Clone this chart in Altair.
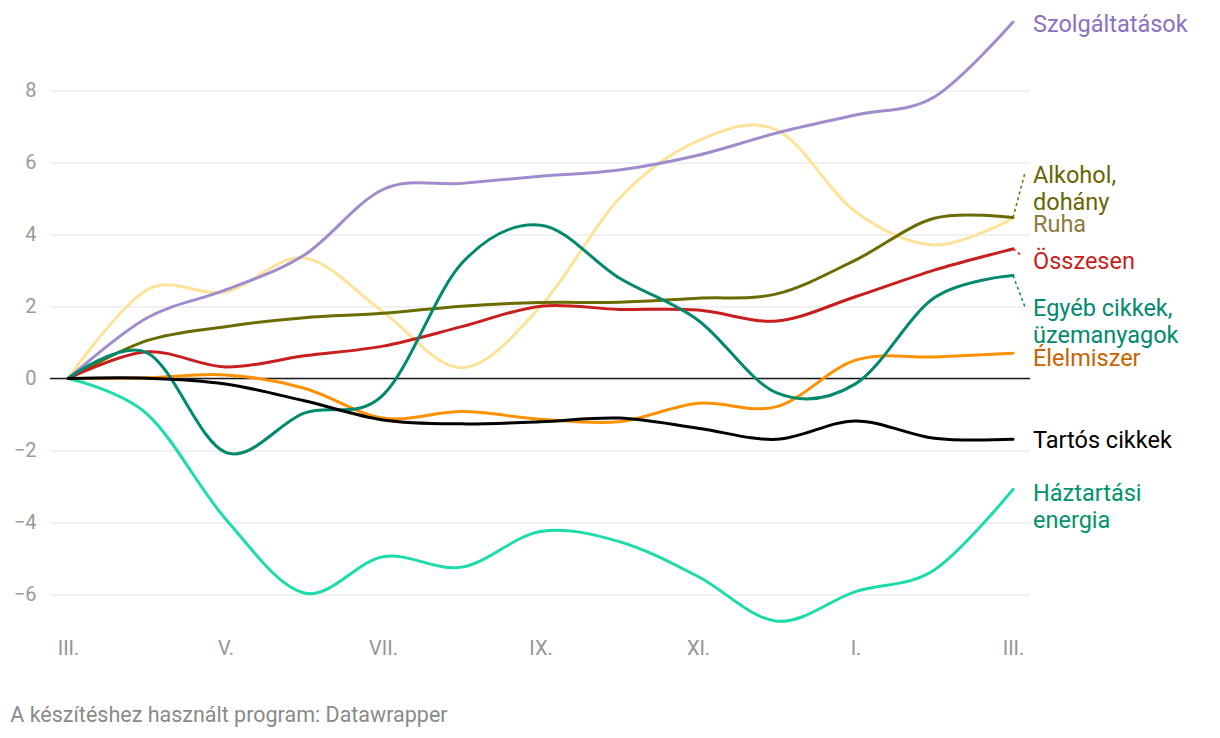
import altair as alt
import pandas as pd

MONTHS = ["III.", "IV.", "V.", "VI.", "VII.", "VIII.", "IX.", "X.", "XI.", "XII.", "I.", "II.", "III."]

SERIES = ["Ruha", "Szolgáltatások", "Háztartási energia", "Élelmiszer",
          "Alkohol, dohány", "Összesen", "Egyéb cikkek, üzemanyagok", "Tartós cikkek"]

ruha = [0, 2.46, 2.41, 3.35, 1.85, 0.3, 2.0, 5.0, 6.6, 6.9, 4.63, 3.71, 4.45]
szolg = [0, 1.68, 2.46, 3.43, 5.25, 5.42, 5.62, 5.79, 6.2, 6.82, 7.32, 7.82, 9.9]
haztartasi = [0, -0.98, -3.9, -5.96, -4.95, -5.24, -4.25, -4.53, -5.5, -6.74, -5.92, -5.32, -3.08]
elelmiszer = [0, 0.02, 0.1, -0.27, -1.1, -0.92, -1.13, -1.2, -0.69, -0.78, 0.51, 0.6, 0.7]
alkohol = [0, 1.05, 1.44, 1.69, 1.81, 2.01, 2.11, 2.12, 2.23, 2.35, 3.29, 4.45, 4.47]
osszesen = [0, 0.74, 0.32, 0.63, 0.9, 1.44, 2.01, 1.92, 1.9, 1.6, 2.27, 3.01, 3.6]
egyeb = [0, 0.72, -2.05, -0.96, -0.46, 3.2, 4.26, 2.79, 1.62, -0.4, -0.15, 2.24, 2.86]
tartos = [0, 0.01, -0.15, -0.62, -1.15, -1.26, -1.2, -1.1, -1.38, -1.69, -1.18, -1.66, -1.69]

VALUES = [ruha, szolg, haztartasi, elelmiszer, alkohol, osszesen, egyeb, tartos]

LINE_COLORS = ["#fde39a", "#a08ccd", "#1bdcaa", "#ff9100", "#6b6b00", "#c81e1e", "#00896d", "#000000"]
LABEL_COLORS = ["#8c7b3e", "#8a72c1", "#00936c", "#c86300", "#666600", "#c81e1e", "#00896d", "#000000"]
LABEL_TEXT = ["Ruha", "Szolgáltatások", "Háztartási\nenergia", "Élelmiszer",
              "Alkohol,\ndohány", "Összesen", "Egyéb cikkek,\nüzemanyagok", "Tartós cikkek"]
# label anchor (value units) for first line centre
LABEL_Y = [4.26, 9.82, -3.2, 0.54, 5.62, 3.23, 1.92, -1.74]

rows = []
for s, vals in zip(SERIES, VALUES):
    for i, v in enumerate(vals):
        rows.append({"series": s, "m": i, "v": v})
df = pd.DataFrame(rows)

lab = pd.DataFrame({"series": SERIES, "text": LABEL_TEXT, "ly": LABEL_Y,
                    "m": [12] * len(SERIES)})

xscale = alt.Scale(domain=[-0.229, 12.216], nice=False, zero=False)
yscale = alt.Scale(domain=[-7, 10], nice=False, zero=False)

month_expr = "[" + ",".join("'%s'" % m for m in MONTHS) + "][datum.value]"

base = alt.Chart(df)

grid = base.mark_line(opacity=0).encode(
    x=alt.X("m:Q", scale=xscale,
            axis=alt.Axis(values=list(range(0, 13, 2)), labelExpr=month_expr, title=None,
                          grid=False, ticks=False, domain=False, labelFontSize=20,
                          labelColor="#959595", labelFont="Roboto", labelPadding=8)),
    y=alt.Y("v:Q", scale=yscale,
            axis=alt.Axis(values=list(range(-6, 9, 2)), title=None, grid=True,
                          gridColor="#e3e3e3", gridWidth=1.2, ticks=False, domain=False,
                          labelFontSize=20, labelColor="#9a9a9a", labelFont="Roboto",
                          labelPadding=14)),
)

zero = alt.Chart(pd.DataFrame({"y": [0]})).mark_rule(color="#1a1a1a", strokeWidth=1.6).encode(
    y=alt.Y("y:Q", scale=yscale))

color = alt.Color("series:N", scale=alt.Scale(domain=SERIES, range=LINE_COLORS), legend=None)

lines = base.mark_line(strokeWidth=3, interpolate="cardinal", strokeCap="round").encode(
    x=alt.X("m:Q", scale=xscale),
    y=alt.Y("v:Q", scale=yscale),
    color=color,
    detail="series:N",
)

conn_df = pd.DataFrame({
    "series": ["Alkohol, dohány", "Összesen", "Egyéb cikkek, üzemanyagok"],
    "m": [12, 12, 12],
    "m2": [12.15, 12.12, 12.15],
    "y": [alkohol[-1], osszesen[-1], egyeb[-1]],
    "y2": [5.7, 3.4, 2.0],
})
conn = alt.Chart(conn_df).mark_rule(strokeWidth=1.5, strokeDash=[3, 3]).encode(
    x=alt.X("m:Q", scale=xscale), x2="m2:Q",
    y=alt.Y("y:Q", scale=yscale), y2="y2:Q",
    color=color,
)

labels = alt.Chart(lab).mark_text(align="left", baseline="middle", dx=20, fontSize=23.5,
                                  font="Roboto", lineBreak="\n", lineHeight=27).encode(
    x=alt.X("m:Q", scale=xscale),
    y=alt.Y("ly:Q", scale=yscale),
    text="text:N",
    color=alt.Color("series:N", scale=alt.Scale(domain=SERIES, range=LABEL_COLORS), legend=None),
)

chart = alt.layer(grid, zero, lines, conn, labels).resolve_scale(color="independent").properties(
    width=980, height=612,
    padding={"left": 42, "top": 10.5, "right": 170, "bottom": 105},
    autosize=alt.AutoSizeParams(type="none"),
    background="white",
    title=alt.TitleParams("A készítéshez használt program: Datawrapper", orient="bottom",
                          anchor="start", fontSize=21.5, font="Roboto", fontWeight="normal",
                          color="#8a8a8a", offset=46, dx=-3),
).configure_view(stroke=None)

chart.save("out.html", embed_options={"renderer": "svg", "actions": False})
